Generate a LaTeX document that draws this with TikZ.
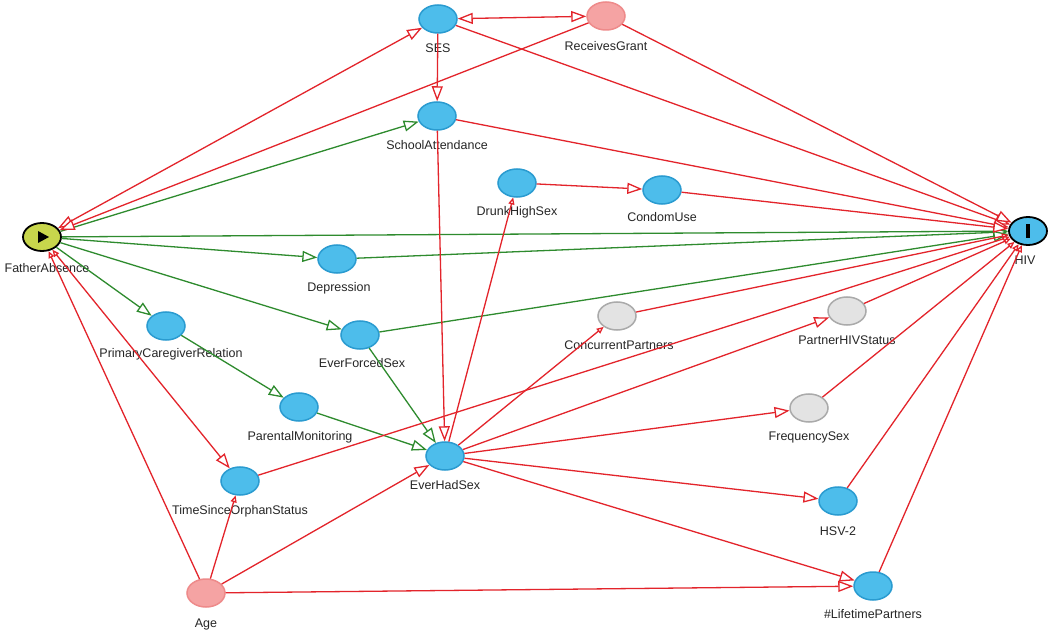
\documentclass[tikz,border=0pt]{standalone}
\usepackage{fontspec}
\setmainfont{Liberation Sans}
\usetikzlibrary{arrows.meta,shapes.geometric}
\definecolor{edgered}{HTML}{E3242B}
\definecolor{edgegreen}{HTML}{2E8B2E}
\definecolor{nodeblue}{HTML}{4DBDEB}
\definecolor{blueborder}{HTML}{2A9BD0}
\definecolor{pinkfill}{HTML}{F5A3A3}
\definecolor{pinkborder}{HTML}{EE8A8A}
\definecolor{grayfill}{HTML}{E3E3E3}
\definecolor{grayborder}{HTML}{AAAAAA}
\definecolor{fagreen}{HTML}{C8D64C}
\definecolor{labelgray}{HTML}{262626}
\tikzset{
  bigT/.tip={Triangle[fill=white,length=15pt,width=11pt]},
  smallT/.tip={Triangle[fill=white,length=7pt,width=6pt]},
}
\begin{document}
\begin{tikzpicture}[x=1pt,y=-1pt,
  var/.style={ellipse, minimum width=38pt, minimum height=28pt, inner sep=0pt, line width=1.5pt},
  bluev/.style={var, fill=nodeblue, draw=blueborder},
  pinkv/.style={var, fill=pinkfill, draw=pinkborder},
  grayv/.style={var, fill=grayfill, draw=grayborder},
  keyv/.style={var, draw=black, line width=1.8pt},
  lbl/.style={font=\fontsize{12.5}{14}\selectfont, text=labelgray, inner sep=0pt},
  redline/.style={draw=edgered, line width=1.3pt},
  greenline/.style={draw=edgegreen, line width=1.3pt},
  bigtip/.style={-bigT},
  smalltip/.style={-smallT},
  bothbig/.style={bigT-bigT},
  smallbig/.style={smallT-bigT},
]
\useasboundingbox (0,0) rectangle (1050,631);
\fill[white] (0,0) rectangle (1050,631);

% nodes
\node[keyv, fill=fagreen] (fa) at (42,237) {};
\node[keyv, fill=nodeblue] (hiv) at (1028,231) {};
\node[bluev] (ses) at (438,19) {};
\node[pinkv] (rg) at (606,16) {};
\node[bluev] (sa) at (437,116) {};
\node[bluev] (dhs) at (517,183) {};
\node[bluev] (cu) at (662,190) {};
\node[bluev] (dep) at (337,259) {};
\node[bluev] (pcr) at (166,326) {};
\node[bluev] (efs) at (360,335) {};
\node[grayv] (cp) at (617,316) {};
\node[grayv] (phs) at (847,311) {};
\node[bluev] (pm) at (299,407) {};
\node[grayv] (fs) at (809,408) {};
\node[bluev] (ehs) at (445,456) {};
\node[bluev] (tsos) at (240,481) {};
\node[bluev] (hsv) at (838,501) {};
\node[pinkv] (age) at (206,593) {};
\node[bluev] (ltp) at (873,586) {};

% symbols
\fill[black] (fa.center) ++(-4,-6) -- ++(11,6) -- ++(-11,6) -- cycle;
\fill[black] (hiv.center) ++(-1.8,-7) rectangle ++(3.6,14);

% labels
\node[lbl] (l-fa) at (47,268) {FatherAbsence};
\node[lbl] (l-hiv) at (1025,260) {HIV};
\node[lbl] (l-ses) at (438,48) {SES};
\node[lbl] (l-rg) at (606,46) {ReceivesGrant};
\node[lbl] (l-sa) at (437,145) {SchoolAttendance};
\node[lbl] (l-dhs) at (517,212) {DrunkHighSex};
\node[lbl] (l-cu) at (662,217) {CondomUse};
\node[lbl] (l-dep) at (339,288) {Depression};
\node[lbl] (l-pcr) at (171,354) {PrimaryCaregiverRelation};
\node[lbl] (l-efs) at (362,363) {EverForcedSex};
\node[lbl] (l-cp) at (619,345) {ConcurrentPartners};
\node[lbl] (l-phs) at (847,340) {PartnerHIVStatus};
\node[lbl] (l-pm) at (300,437) {ParentalMonitoring};
\node[lbl] (l-fs) at (809,437) {FrequencySex};
\node[lbl] (l-ehs) at (445,485) {EverHadSex};
\node[lbl] (l-tsos) at (240,511) {TimeSinceOrphanStatus};
\node[lbl] (l-hsv) at (838,531) {HSV-2};
\node[lbl] (l-age) at (206,624) {Age};
\node[lbl] (l-ltp) at (873,614) {\#LifetimePartners};

% green (causal) edges
\draw[greenline, bigtip] (fa) -- (sa);
\draw[greenline, bigtip] (fa) -- (hiv);
\draw[greenline, bigtip] (fa) -- (dep);
\draw[greenline, bigtip] (fa) -- (pcr);
\draw[greenline, bigtip] (fa) -- (efs);
\draw[greenline, bigtip] (pcr) -- (pm);
\draw[greenline, bigtip] (pm) -- (ehs);
\draw[greenline, bigtip] (efs) -- (ehs);
\draw[greenline, bigtip] (dep) -- (hiv);
\draw[greenline, bigtip] (efs) -- (hiv);

% red (biasing) edges
\draw[redline, bothbig] (fa) -- (ses);
\draw[redline, bigtip] (rg) -- (fa);
\draw[redline, bothbig] (ses) -- (rg);
\draw[redline, bigtip] (ses) -- (sa);
\draw[redline, bigtip] (ses) -- (hiv);
\draw[redline, bigtip] (rg) -- (hiv);
\draw[redline, bigtip] (sa) -- (hiv);
\draw[redline, bigtip] (sa) -- (ehs);
\draw[redline, smalltip] (ehs) -- (dhs);
\draw[redline, bigtip] (dhs) -- (cu);
\draw[redline, bigtip] (cu) -- (hiv);
\draw[redline, smalltip] (ehs) -- (cp);
\draw[redline, bigtip] (ehs) -- (phs);
\draw[redline, bigtip] (ehs) -- (fs);
\draw[redline, bigtip] (ehs) -- (hsv);
\draw[redline, bigtip] (ehs) -- (ltp);
\draw[redline, smalltip] (cp) -- (hiv);
\draw[redline, smalltip] (phs) -- (hiv);
\draw[redline, smalltip] (fs) -- (hiv);
\draw[redline, smalltip] (hsv) -- (hiv);
\draw[redline, smalltip] (ltp) -- (hiv);
\draw[redline, smalltip] (tsos) -- (hiv);
\draw[redline, smallbig] (fa) -- (tsos);
\draw[redline, smalltip] (age) -- (fa);
\draw[redline, smalltip] (age) -- (tsos);
\draw[redline, bigtip] (age) -- (ehs);
\draw[redline, bigtip] (age) -- (ltp);
\end{tikzpicture}
\end{document}
